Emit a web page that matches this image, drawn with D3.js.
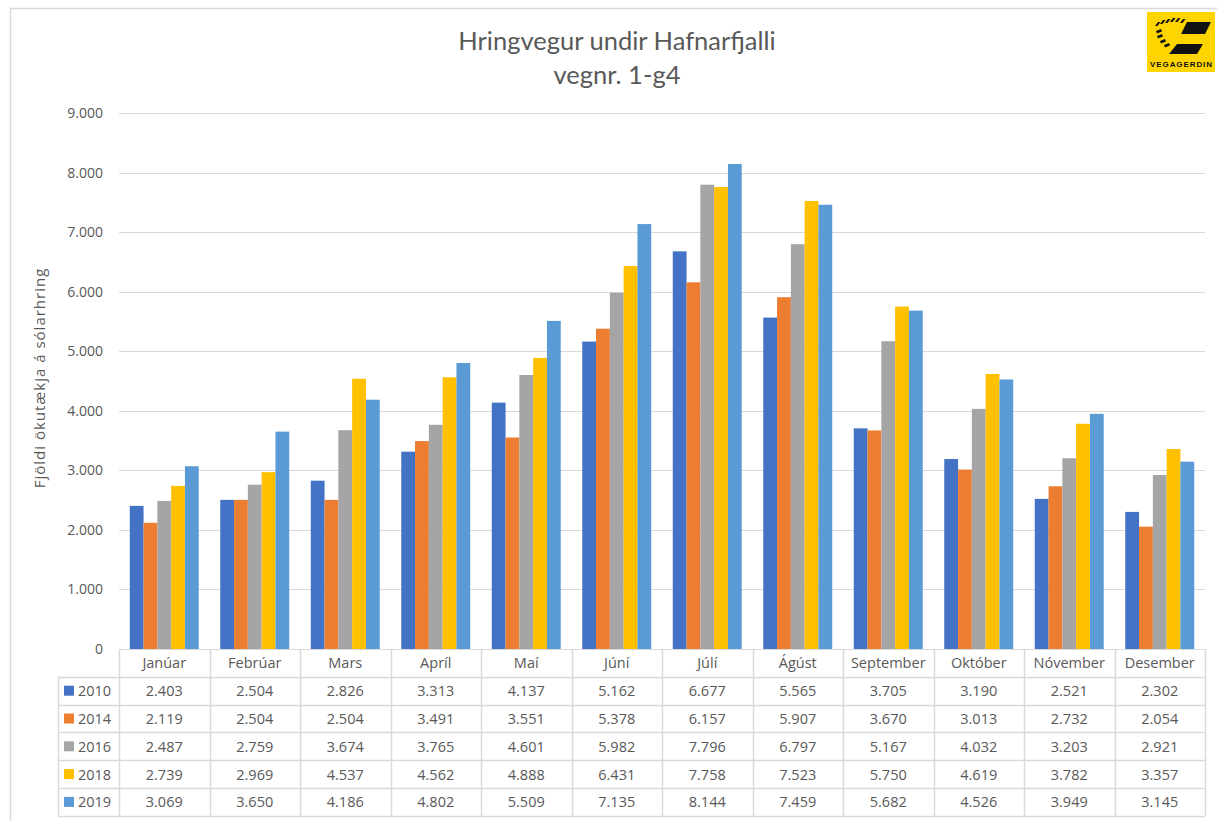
<!DOCTYPE html>
<html>
<head>
<meta charset="utf-8">
<script src="https://cdn.jsdelivr.net/npm/d3@7"></script>
<style>
  html, body { margin: 0; padding: 0; background: #fff; }
  svg { display: block; font-family: "Open Sans", "Noto Sans", sans-serif; }
</style>
</head>
<body>
<svg id="chart" width="1217" height="821"></svg>
<script>
// Monthly average daily traffic, Hringvegur undir Hafnarfjalli
const months = ["Janúar", "Febrúar", "Mars", "Apríl", "Maí", "Júní", "Júlí", "Ágúst", "September", "Október", "Nóvember", "Desember"];
const years = ["2010", "2014", "2016", "2018", "2019"];
const colors = ["#4472c4", "#ed7d31", "#a5a5a5", "#ffc000", "#5b9bd5"];
const v2010 = [2403, 2504, 2826, 3313, 4137, 5162, 6677, 5565, 3705, 3190, 2521, 2302];
const v2014 = [2119, 2504, 2504, 3491, 3551, 5378, 6157, 5907, 3670, 3013, 2732, 2054];
const v2016 = [2487, 2759, 3674, 3765, 4601, 5982, 7796, 6797, 5167, 4032, 3203, 2921];
const v2018 = [2739, 2969, 4537, 4562, 4888, 6431, 7758, 7523, 5750, 4619, 3782, 3357];
const v2019 = [3069, 3650, 4186, 4802, 5509, 7135, 8144, 7459, 5682, 4526, 3949, 3145];
const yTicks = [0, 1000, 2000, 3000, 4000, 5000, 6000, 7000, 8000, 9000];
const series = [v2010, v2014, v2016, v2018, v2019];

const svg = d3.select("#chart");
const gridColor = "#d9d9d9";
const textColor = "#595959";
const fmt = n => d3.format(",")(n).replace(/,/g, ".");

// outer chart frame
svg.append("rect").attr("x", 10.5).attr("y", 8.5).attr("width", 1230).attr("height", 830)
  .attr("fill", "none").attr("stroke", gridColor).attr("stroke-width", 1.5);

const plotLeft = 119, plotRight = 1205, plotTop = 113, plotBottom = 649;
const x = d3.scaleBand().domain(months).range([plotLeft, plotRight]).paddingInner(0).paddingOuter(0);
const xs = d3.scaleBand().domain(years).range([0, x.bandwidth()]).paddingInner(0).paddingOuter(0.78);
const y = d3.scaleLinear().domain([0, 9000]).range([plotBottom, plotTop]);

// gridlines
svg.append("g").selectAll("line").data(yTicks.filter(t => t > 0)).join("line")
  .attr("x1", plotLeft).attr("x2", plotRight)
  .attr("y1", d => Math.round(y(d)) + 0.5).attr("y2", d => Math.round(y(d)) + 0.5)
  .attr("stroke", gridColor).attr("stroke-width", 1);

// y axis tick labels
const yAxis = d3.axisLeft(y).tickValues(yTicks).tickSize(0).tickPadding(0).tickFormat(fmt);
const ya = svg.append("g").attr("transform", `translate(${plotLeft - 16},0)`).call(yAxis);
ya.select(".domain").remove();
ya.selectAll("text").attr("fill", textColor).attr("font-size", 14)
  .attr("font-family", "'Open Sans', sans-serif");

// bars
const groups = svg.append("g").selectAll("g").data(months).join("g")
  .attr("transform", d => `translate(${x(d)},0)`);
groups.selectAll("rect").data((m, i) => years.map((yr, k) => ({ yr, k, v: series[k][i] }))).join("rect")
  .attr("x", d => xs(d.yr)).attr("width", xs.bandwidth())
  .attr("y", d => y(d.v)).attr("height", d => y(0) - y(d.v))
  .attr("fill", d => colors[d.k]);

// data table under the axis
const rowH = 27.8;
const tableBottom = plotBottom + rowH * 6;
const legendLeft = 58;
const tbl = svg.append("g");
tbl.append("line").attr("x1", plotLeft).attr("x2", plotRight).attr("y1", plotBottom + 0.5).attr("y2", plotBottom + 0.5)
  .attr("stroke", gridColor);
for (let r = 1; r <= 6; r++) {
  const yy = Math.round(plotBottom + r * rowH) + 0.5;
  tbl.append("line").attr("x1", legendLeft).attr("x2", plotRight).attr("y1", yy).attr("y2", yy)
    .attr("stroke", gridColor).attr("stroke-width", 1.5);
}
tbl.append("line").attr("x1", legendLeft + 0.5).attr("x2", legendLeft + 0.5)
  .attr("y1", plotBottom + rowH).attr("y2", tableBottom).attr("stroke", gridColor).attr("stroke-width", 1.5);
months.forEach(m => {
  const xx = Math.round(x(m)) + 0.5;
  tbl.append("line").attr("x1", xx).attr("x2", xx).attr("y1", plotBottom).attr("y2", tableBottom)
    .attr("stroke", gridColor).attr("stroke-width", 1.5);
});
tbl.append("line").attr("x1", plotRight + 0.5).attr("x2", plotRight + 0.5).attr("y1", plotBottom).attr("y2", tableBottom)
  .attr("stroke", gridColor).attr("stroke-width", 1.5);

// month headers
tbl.selectAll("text.month").data(months).join("text").attr("class", "month")
  .attr("x", d => x(d) + x.bandwidth() / 2).attr("y", plotBottom + rowH / 2 + 5.5)
  .attr("text-anchor", "middle").attr("font-size", 14.5).attr("fill", textColor).text(d => d);

// series rows with legend keys
years.forEach((yr, k) => {
  const cy = plotBottom + rowH * (k + 1) + rowH / 2;
  tbl.append("rect").attr("x", 64).attr("y", cy - 5).attr("width", 10).attr("height", 10).attr("fill", colors[k]);
  tbl.append("text").attr("x", 78).attr("y", cy + 5.5).attr("font-size", 14.5).attr("fill", textColor).text(yr);
  tbl.selectAll(null).data(series[k]).join("text")
    .attr("x", (d, i) => x(months[i]) + x.bandwidth() / 2).attr("y", cy + 5.5)
    .attr("text-anchor", "middle").attr("font-size", 14.5).attr("fill", textColor).text(d => fmt(d));
});

// titles
svg.append("text").attr("x", 617).attr("y", 50).attr("text-anchor", "middle")
  .attr("font-family", "Lato, 'Open Sans', sans-serif")
  .attr("font-size", 25.5).attr("fill", textColor).text("Hringvegur undir Hafnarfjalli");
svg.append("text").attr("x", 617).attr("y", 84).attr("text-anchor", "middle")
  .attr("font-family", "Lato, 'Open Sans', sans-serif")
  .attr("font-size", 25.5).attr("fill", textColor).text("vegnr. 1-g4");
svg.append("text").attr("transform", "translate(45,378) rotate(-90)").attr("text-anchor", "middle")
  .attr("font-size", 15).attr("letter-spacing", 1).attr("fill", textColor).text("Fjöldi ökutækja á sólarhring");

// Vegagerðin logo
const logo = svg.append("g").attr("transform", "translate(1147,12)");
logo.append("rect").attr("width", 68).attr("height", 60).attr("fill", "#ffd500");
// two slanted bars
logo.append("path").attr("d", "M40,10 L64,10 L58,22 L34,22 Z").attr("fill", "#111");
logo.append("path").attr("d", "M30,32 L56,32 L50,42 L22,42 Z").attr("fill", "#111");
// dashed arc of stripes
[[8, 14], [13, 12], [18, 11], [23, 10], [28, 10], [33, 11]].forEach(([px, py]) => {
  logo.append("path").attr("d", `M${px},${py} l3,-4 l2.5,0 l-3,4 Z`).attr("fill", "#111");
});
[[9, 19], [10, 24], [13, 29], [17, 33]].forEach(([px, py]) => {
  logo.append("path").attr("d", `M${px},${py} l5,-2 l1,2.5 l-5,2 Z`).attr("fill", "#111");
});
logo.append("text").attr("x", 34).attr("y", 55).attr("text-anchor", "middle")
  .attr("font-size", 8).attr("font-weight", "bold").attr("font-family", "'Liberation Sans', Arial, sans-serif")
  .attr("fill", "#111").attr("textLength", 62).text("VEGAGERDIN");
</script>
</body>
</html>
